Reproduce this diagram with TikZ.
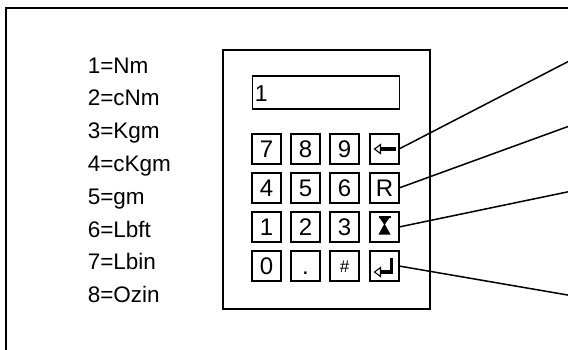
\documentclass[tikz,border=0pt]{standalone}
\usepackage{fontspec}
\setmainfont{Liberation Sans}
\begin{document}
\begin{tikzpicture}[x=1pt,y=-1pt,line width=1.5pt,
  keybox/.style={draw,minimum width=29pt,minimum height=30pt,inner sep=0pt,outer sep=0pt,
    text height=17pt,text depth=0pt,font=\fontsize{24}{24}\selectfont},
  lbl/.style={anchor=base west,inner sep=0pt,font=\fontsize{22.5}{22.5}\selectfont},
  icon/.style={line width=1.1pt},
  conn/.style={line width=1.5pt}]
\useasboundingbox (0,0) rectangle (568,349);
% outer frame
\draw[line width=2.2pt] (6,360) -- (6,8) -- (580,8);
% unit labels
\foreach \t [count=\i from 0] in {1=Nm,2=cNm,3=Kgm,4=cKgm,5=gm,6=Lbft,7=Lbin,8=Ozin}
  \node[lbl] (u\i) at (87,{73+32.8*\i}) {\t};
% keypad body
\node[draw,line width=1.6pt,minimum width=207pt,minimum height=259pt,inner sep=0pt] (pad) at (326.5,179.5) {};
% display
\node[draw,minimum width=147pt,minimum height=33pt,inner sep=0pt] (disp) at (325.75,92.5) {};
\node[lbl,font=\fontsize{23}{23}\selectfont] (dtxt) at (254,101.5) {1};
% keys
\node[keybox] (k7) at (266.5,149) {7};
\node[keybox] (k8) at (305.5,149) {8};
\node[keybox] (k9) at (344.5,149) {9};
\node[keybox] (kback) at (384.5,149) {};
\node[keybox] (k4) at (266.5,188) {4};
\node[keybox] (k5) at (305.5,188) {5};
\node[keybox] (k6) at (344.5,188) {6};
\node[keybox] (kR) at (384.5,188) {R};
\node[keybox] (k1) at (266.5,227) {1};
\node[keybox] (k2) at (305.5,227) {2};
\node[keybox] (k3) at (344.5,227) {3};
\node[keybox] (kud) at (384.5,227) {};
\node[keybox] (k0) at (266.5,266) {0};
\node[keybox] (kdot) at (305.5,266) {.};
\node[keybox,font=\fontsize{17}{17}\selectfont,text height=13pt] (khash) at (344.5,266) {\#};
\node[keybox] (kent) at (384.5,266) {};
% backspace icon
\begin{scope}[shift={(kback.center)}]
  \draw[line width=3.2pt] (-4.5,0) -- (11,0);
  \draw[icon,fill=white] (-10,0) -- (-4,-4.5) -- (-4,4.5) -- cycle;
\end{scope}
% up/down icon
\begin{scope}[shift={(kud.center)}]
  \draw[line width=1.6pt] (-6,-10) -- (6,-10);
  \fill (-5.5,-10) -- (5.5,-10) -- (0,-2) -- cycle;
  \fill (0,-3.5) -- (6,7.5) -- (-6,7.5) -- cycle;
\end{scope}
% enter icon
\begin{scope}[shift={(kent.center)}]
  \draw[line width=3.2pt] (7,-8.5) -- (7,6) -- (-4.5,6);
  \draw[icon,fill=white] (-10,6) -- (-4,1.5) -- (-4,10.5) -- cycle;
\end{scope}
% connector ends
\coordinate (e1) at (570,60.6);
\coordinate (e2) at (570,125.8);
\coordinate (e3) at (570,191.4);
\coordinate (e4) at (570,295.4);
\draw[conn] (kback.east) -- (e1);
\draw[conn] (kR.east) -- (e2);
\draw[conn] (kud.east) -- (e3);
\draw[conn] (kent.east) -- (e4);
\end{tikzpicture}
\end{document}
